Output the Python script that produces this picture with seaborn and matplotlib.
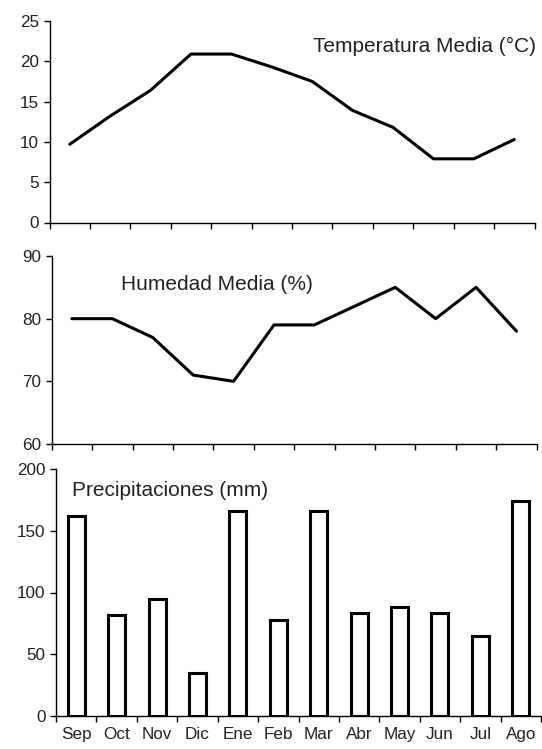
import numpy as np
import pandas as pd
import matplotlib
matplotlib.use("Agg")
import matplotlib.pyplot as plt
import seaborn as sns
from matplotlib.ticker import FixedLocator, NullFormatter

months = ["Sep", "Oct", "Nov", "Dic", "Ene", "Feb", "Mar", "Abr", "May", "Jun", "Jul", "Ago"]
temperatura = [9.7, 13.2, 16.4, 20.9, 20.9, 19.3, 17.5, 13.9, 11.8, 7.9, 7.9, 10.3]
humedad = [80, 80, 77, 71, 70, 79, 79, 82, 85, 80, 85, 78]
precipitaciones = [162, 82, 95, 35, 166, 78, 166, 83, 88, 83, 65, 174]

temp_ticks = [0, 5, 10, 15, 20, 25]
hum_ticks = [60, 70, 80, 90]
prec_ticks = [0, 50, 100, 150, 200]

df = pd.DataFrame({"mes": months, "temp": temperatura, "hum": humedad, "prec": precipitaciones})

sns.set_theme(style="ticks")
plt.rcParams["font.family"] = ["Liberation Sans", "DejaVu Sans"]

W, H = 542, 749
fig = plt.figure(figsize=(W / 100, H / 100), dpi=100)

def rect(x0, x1, ytop, ybot):
    return [x0 / W, 1 - ybot / H, (x1 - x0) / W, (ybot - ytop) / H]

ax1 = fig.add_axes(rect(49.5, 534.5, 21, 222.5))
ax2 = fig.add_axes(rect(51.7, 536.7, 256, 444))
ax3 = fig.add_axes(rect(56, 541, 469, 716))

text_color = "#222222"
fs = 12.3
fs_ann = 15

sns.lineplot(data=df, x="mes", y="temp", ax=ax1, color="black", linewidth=2.2, sort=False)
sns.lineplot(data=df, x="mes", y="hum", ax=ax2, color="black", linewidth=2.2, sort=False)
sns.barplot(data=df, x="mes", y="prec", ax=ax3, color="white", edgecolor="black",
            linewidth=2.2, width=0.42, saturation=1)

for ax, ticks in ((ax1, temp_ticks), (ax2, hum_ticks), (ax3, prec_ticks)):
    ax.set_xlim(-0.5, len(months) - 0.5)
    ax.set_ylim(ticks[0], ticks[-1])
    ax.set_yticks(ticks)
    ax.set_xlabel("")
    ax.set_ylabel("")
    for s in ("top", "right"):
        ax.spines[s].set_visible(False)
    for s in ("left", "bottom"):
        ax.spines[s].set_color("black")
        ax.spines[s].set_linewidth(1.0)
    ax.xaxis.set_minor_locator(FixedLocator(np.arange(-0.5, len(months), 1.0)))
    ax.tick_params(axis="x", which="minor", length=4.5, width=1.0, color="black", direction="out")
    ax.tick_params(axis="x", which="major", length=0)
    ax.tick_params(axis="y", length=4.5, width=1.0, color="black", direction="out",
                   labelsize=fs, labelcolor=text_color, pad=3)
    ax.set_facecolor("white")

for ax in (ax1, ax2):
    ax.set_xticks(range(len(months)))
    ax.xaxis.set_major_formatter(NullFormatter())

ax3.set_xticks(range(len(months)))
ax3.set_xticklabels(months)
ax3.tick_params(axis="x", which="major", labelsize=fs, labelcolor=text_color, pad=8)

def ftext(x, y, s):
    fig.text(x / W, 1 - y / H, s, fontsize=fs_ann, color=text_color, va="center", ha="left")

ftext(313, 46, "Temperatura Media (°C)")
ftext(121, 285, "Humedad Media (%)")
ftext(72, 491, "Precipitaciones (mm)")

fig.savefig("out.png", dpi=100, facecolor="white")
